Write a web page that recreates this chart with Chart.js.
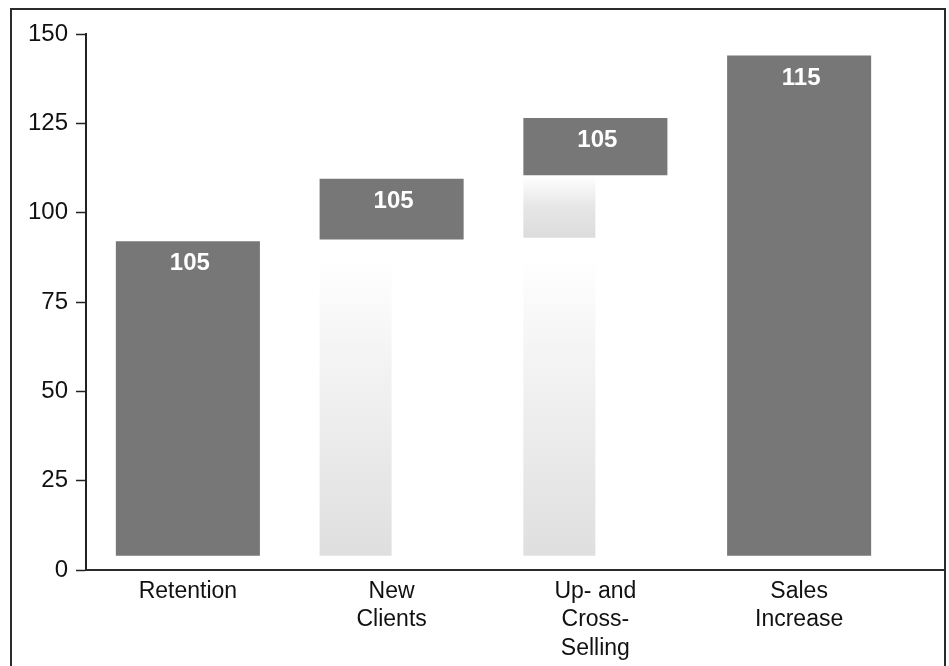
<!DOCTYPE html>
<html>
<head>
<meta charset="utf-8">
<title>Sales Increase</title>
<script src="https://cdn.jsdelivr.net/npm/chart.js@4.4.1/dist/chart.umd.min.js"></script>
<style>
  body { margin: 0; background: #fff; }
  #chart { display: block; }
</style>
</head>
<body>
<canvas id="chart" width="949" height="666"></canvas>
<script>
// Categories (multi-line labels)
const categories = [["Retention"], ["New", "Clients"], ["Up- and", "Cross-", "Selling"], ["Sales", "Increase"]];

// Dark blocks as [from, to]
const darkBars = [[4, 92], [92.5, 109.5], [110.5, 126.5], [4, 144]];

// Faded columns under the floating blocks
const fadeLow = [null, [4, 88], [4, 88], null];
const fadeHigh = [null, null, [93, 110.3], null];

// Text printed inside the dark blocks
const barLabels = ["105", "105", "105", "115"];

// Y axis ticks
const yTicks = [0, 25, 50, 75, 100, 125, 150];

// Vertical gradient for one bar, built from its own top/bottom pixels
function fade(stops) {
  return (c) => {
    const chart = c.chart;
    const fallback = stops[stops.length - 1][1];
    if (!chart.chartArea || !c.raw) return fallback;
    const y = chart.scales.y;
    const top = y.getPixelForValue(c.raw[1]);
    const bottom = y.getPixelForValue(c.raw[0]);
    if (!isFinite(top) || !isFinite(bottom)) return fallback;
    const g = chart.ctx.createLinearGradient(0, top, 0, bottom);
    stops.forEach(([p, col]) => g.addColorStop(p, col));
    return g;
  };
}

// Frame around the figure + x axis line running out to it
const frame = {
  id: "frame",
  afterDraw(chart) {
    const { ctx, chartArea } = chart;
    ctx.save();
    ctx.strokeStyle = "#2b2b2b";
    ctx.lineWidth = 2;
    ctx.beginPath();
    ctx.moveTo(11, 700);
    ctx.lineTo(11, 9);
    ctx.lineTo(945, 9);
    ctx.lineTo(945, 700);
    ctx.stroke();

    const y0 = chart.scales.y.getPixelForValue(0);
    ctx.beginPath();
    ctx.moveTo(chartArea.left, y0);
    ctx.lineTo(945, y0);
    ctx.stroke();
    ctx.restore();
  },
};

// White numbers near the top of each dark block
const valueLabels = {
  id: "valueLabels",
  afterDatasetsDraw(chart) {
    const ctx = chart.ctx;
    const meta = chart.getDatasetMeta(0);
    ctx.save();
    ctx.fillStyle = "#ffffff";
    ctx.font = 'bold 24px "Liberation Sans", Arial, sans-serif';
    ctx.textAlign = "center";
    ctx.textBaseline = "middle";
    meta.data.forEach((bar, i) => {
      const top = Math.min(bar.y, bar.base);
      ctx.fillText(barLabels[i], bar.x + 2, top + 22.5);
    });
    ctx.restore();
  },
};

new Chart(document.getElementById("chart"), {
  type: "bar",
  data: {
    labels: categories,
    datasets: [
      { data: darkBars, backgroundColor: "#777777", grouped: false },
      {
        data: fadeLow,
        stack: "left",
        backgroundColor: fade([[0, "#ffffff"], [0.3, "#f5f5f5"], [1, "#dfdfdf"]]),
      },
      {
        data: fadeHigh,
        stack: "left",
        backgroundColor: fade([[0, "#ffffff"], [0.5, "#e6e6e6"], [1, "#dcdcdc"]]),
      },
      // empty right half so the faded columns sit on the left
      { data: categories.map(() => null), stack: "right" },
    ],
  },
  options: {
    responsive: false,
    animation: false,
    devicePixelRatio: 1,
    datasets: { bar: { categoryPercentage: 0.707, barPercentage: 1, borderWidth: 0 } },
    layout: { padding: { top: 34, right: 48, left: 0, bottom: 0 } },
    plugins: { legend: { display: false }, tooltip: { enabled: false } },
    scales: {
      x: {
        stacked: true,
        grid: { display: false, drawTicks: false },
        border: { display: false },
        ticks: {
          color: "#111",
          padding: 7,
          maxRotation: 0,
          font: { family: '"Liberation Sans", Arial, sans-serif', size: 23, lineHeight: 1.25 },
        },
        afterFit: (s) => { s.height = 96; },
      },
      y: {
        stacked: false,
        min: 0,
        max: 150,
        afterBuildTicks: (s) => { s.ticks = yTicks.map((v) => ({ value: v })); },
        grid: { drawOnChartArea: false, tickLength: 10, tickColor: "#222", tickWidth: 1.5 },
        border: { color: "#222", width: 2 },
        ticks: {
          color: "#111",
          padding: 8,
          font: { family: '"Liberation Sans", Arial, sans-serif', size: 24 },
        },
        afterFit: (s) => { s.width = 86; },
      },
    },
  },
  plugins: [frame, valueLabels],
});
</script>
</body>
</html>
